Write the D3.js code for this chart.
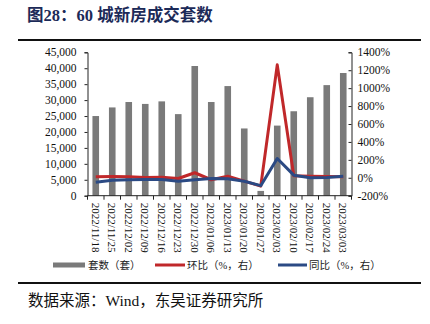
<!DOCTYPE html>
<html><head><meta charset="utf-8">
<script src="https://cdn.jsdelivr.net/npm/d3@7"></script>
<style>
html,body{margin:0;padding:0;background:#fff;}
svg{display:block;}
</style>
</head><body>
<svg id="chart" width="430" height="324"></svg>
<script>
const categories = ["2022/11/18","2022/11/25","2022/12/02","2022/12/09","2022/12/16","2022/12/23","2022/12/30","2023/01/06","2023/01/13","2023/01/20","2023/01/27","2023/02/03","2023/02/10","2023/02/17","2023/02/24","2023/03/03"];
const units = [25000, 27700, 29400, 28800, 29600, 25600, 40700, 29400, 34400, 21100, 1500, 22000, 26500, 30900, 34700, 38500];
const momPct = [11, 13, 11, 3, 7, -8, 56, -22, 18, -38, -93, 1260, 22, 17, 13, 11];
const yoyPct = [-49, -27, -22, -19, -19, -38, -22, -8, -11, -38, -88, 215, 29, 0, 3, 18];
const leftTicks = [0,5000,10000,15000,20000,25000,30000,35000,40000,45000];
const rightTicks = [-200,0,200,400,600,800,1000,1200,1400];
const titleText = "图28：60 城新房成交套数";
const sourceText = "数据来源：Wind，东吴证券研究所";
const legendLabels = ["套数（套）","环比（%，右）","同比（%，右）"];

const colors = {bar:"#7a7a7a", red:"#c0282a", blue:"#2b4a84", title:"#1c2a58"};
const serif = "'Liberation Serif','Times New Roman',serif";
const cjk = "'Liberation Serif','Noto Sans CJK SC',serif";

const svg = d3.select("#chart");
svg.append("rect").attr("width",430).attr("height",324).attr("fill","#fff");

const L = 87.5, R = 351.5, T = 52.3, B = 195.7;

const x = d3.scaleBand().domain(categories).range([L,R]).paddingInner(0.6).paddingOuter(0.3);
const yL = d3.scaleLinear().domain([0,45000]).range([B,T]);
const yR = d3.scaleLinear().domain([-200,1400]).range([B,T]);

// title
svg.append("text").attr("x",27).attr("y",20.5).attr("font-family",cjk).attr("font-weight","bold")
  .attr("font-size",16.5).attr("fill",colors.title).text(titleText);
svg.append("line").attr("x1",18).attr("x2",421).attr("y1",40).attr("y2",40).attr("stroke","#111").attr("stroke-width",2);

// bars
svg.append("g").selectAll("rect").data(categories).join("rect")
  .attr("x",d=>x(d)).attr("width",x.bandwidth())
  .attr("y",(d,i)=>yL(units[i])).attr("height",(d,i)=>B-yL(units[i]))
  .attr("fill",colors.bar);

// left axis
const gl = svg.append("g").attr("transform",`translate(${L},0)`)
  .call(d3.axisLeft(yL).tickValues(leftTicks).tickSize(3).tickPadding(8).tickFormat(d3.format(",")));
// right axis
const gr = svg.append("g").attr("transform",`translate(${R},0)`)
  .call(d3.axisRight(yR).tickValues(rightTicks).tickSize(-3).tickPadding(6).tickFormat(d=>d+"%"));
[gl,gr].forEach(g=>{
  g.select(".domain").attr("stroke","#222").attr("stroke-width",1);
  g.selectAll(".tick line").attr("stroke","#222");
  g.selectAll("text").attr("font-family",serif).attr("font-size",11.5).attr("fill","#111");
});

// x axis
const gx = svg.append("g").attr("transform",`translate(0,${B})`);
gx.append("line").attr("x1",L).attr("x2",R).attr("stroke","#222");
const bounds = categories.map(d=>x(d)-x.step()*x.paddingInner()/2).concat([R]);
gx.selectAll("line.tk").data(bounds).join("line").attr("class","tk")
  .attr("x1",d=>d).attr("x2",d=>d).attr("y1",0).attr("y2",4).attr("stroke","#222");
gx.selectAll("text").data(categories).join("text")
  .attr("transform",d=>`translate(${x(d)+x.bandwidth()/2},7) rotate(90)`)
  .attr("dy","0.35em").attr("font-family",serif).attr("font-size",11).attr("fill","#111").text(d=>d);

// lines
const cx = d=>x(d)+x.bandwidth()/2;
const lineR = d3.line().x((v,i)=>cx(categories[i])).y(v=>yR(v));
svg.append("path").datum(momPct).attr("d",lineR).attr("fill","none").attr("stroke",colors.red).attr("stroke-width",3).attr("stroke-linejoin","round");
svg.append("path").datum(yoyPct).attr("d",lineR).attr("fill","none").attr("stroke",colors.blue).attr("stroke-width",3).attr("stroke-linejoin","round");

// legend
const ly = 265;
const lg = svg.append("g");
lg.append("rect").attr("x",53).attr("y",ly-2.5).attr("width",32).attr("height",5).attr("fill",colors.bar);
lg.append("text").attr("x",88).attr("y",ly).attr("dy","0.35em").text(legendLabels[0]);
lg.append("line").attr("x1",155).attr("x2",185).attr("y1",ly).attr("y2",ly).attr("stroke",colors.red).attr("stroke-width",3);
lg.append("text").attr("x",187).attr("y",ly).attr("dy","0.35em").text(legendLabels[1]);
lg.append("line").attr("x1",278).attr("x2",307).attr("y1",ly).attr("y2",ly).attr("stroke",colors.blue).attr("stroke-width",3);
lg.append("text").attr("x",309).attr("y",ly).attr("dy","0.35em").text(legendLabels[2]);
lg.selectAll("text").attr("font-family",cjk).attr("font-size",10.5).attr("fill","#222");

// footer
svg.append("line").attr("x1",18).attr("x2",421).attr("y1",283).attr("y2",283).attr("stroke","#111").attr("stroke-width",2);
svg.append("text").attr("x",28).attr("y",301).attr("dy","0.35em").attr("font-family",cjk).attr("font-size",15.5).attr("fill","#111").text(sourceText);
</script>
</body></html>
